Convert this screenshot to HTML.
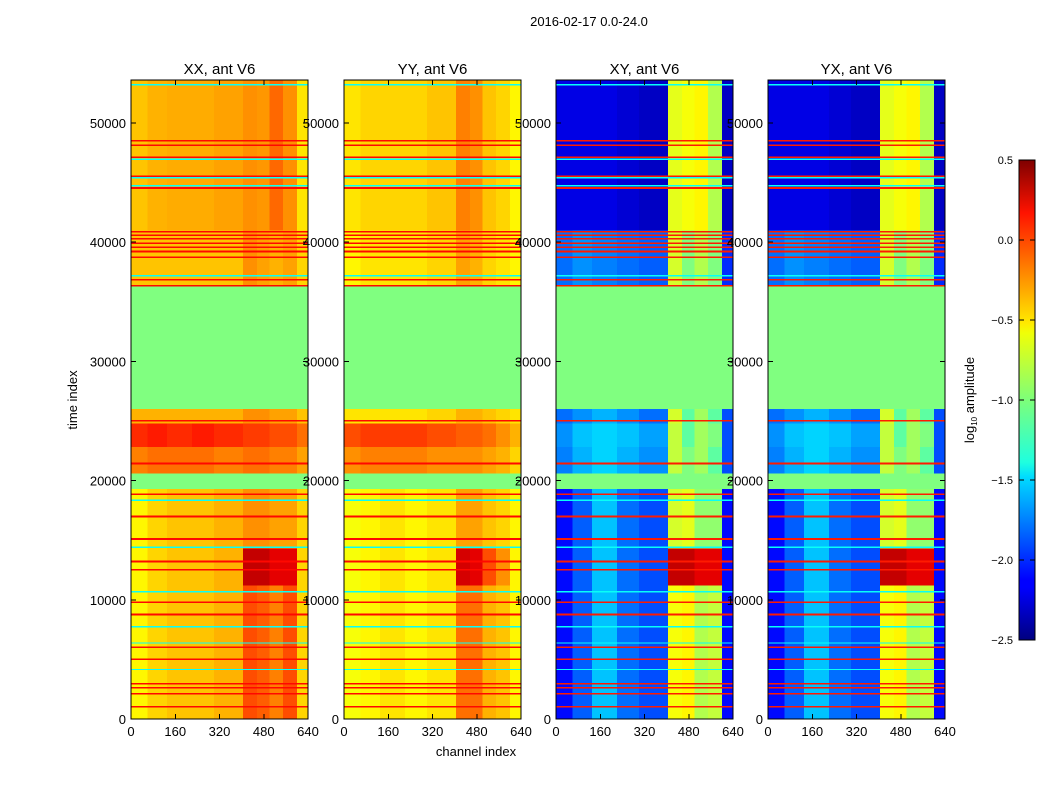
<!DOCTYPE html>
<html><head><meta charset="utf-8"><style>
body{margin:0;background:#fff;}
svg text{font-family:"Liberation Sans",sans-serif;fill:#000;}
</style></head><body>
<svg id="fig" width="1050" height="800" xmlns="http://www.w3.org/2000/svg" shape-rendering="crispEdges">
<defs>
<linearGradient id="jet" x1="0" y1="1" x2="0" y2="0">
<stop offset="0" stop-color="#00007f"/><stop offset="0.11" stop-color="#0000ff"/><stop offset="0.125" stop-color="#0000ff"/>
<stop offset="0.34" stop-color="#00dcff"/><stop offset="0.37" stop-color="#1fffdf"/><stop offset="0.5" stop-color="#7dff7a"/>
<stop offset="0.64" stop-color="#f0ff07"/><stop offset="0.66" stop-color="#ffea00"/><stop offset="0.89" stop-color="#ff1300"/><stop offset="1" stop-color="#7f0000"/>
</linearGradient>
</defs>
<text x="589" y="26" font-size="13" text-anchor="middle">2016-02-17 0.0-24.0</text>
<g id="panels"></g>
<text x="77" y="400" font-size="13" text-anchor="middle" transform="rotate(-90 77 400)">time index</text>
<text x="476" y="756" font-size="13" text-anchor="middle">channel index</text>
<g>
<rect x="1019" y="160" width="16" height="480" fill="url(#jet)" stroke="#000" stroke-width="1"/>
<g id="cbticks"></g>
<text x="974" y="400" font-size="13" text-anchor="middle" transform="rotate(-90 974 400)">log<tspan font-size="8" dy="3">10</tspan><tspan dy="-3"> amplitude</tspan></text>
</g>
</svg>
<script>
const panelTitles = ["XX, ant V6","YY, ant V6","XY, ant V6","YX, ant V6"];
const timeEdges = [0,11200,14300,19300,20600,22800,24800,26000,36300,41000,53600];
const chanEdges = [0,60,130,220,300,405,455,500,550,600,640];
const xxValues = [
 [-0.6,-0.5,-0.45,-0.45,-0.4,-0.1,-0.15,-0.25,-0.1,-0.5],
 [-0.6,-0.5,-0.45,-0.45,-0.4,0.3,0.3,0.2,0.2,-0.5],
 [-0.6,-0.5,-0.45,-0.45,-0.4,-0.3,-0.3,-0.35,-0.35,-0.5],
 [-1,-1,-1,-1,-1,-1,-1,-1,-1,-1],
 [-0.25,-0.2,-0.2,-0.2,-0.25,-0.2,-0.2,-0.25,-0.25,-0.35],
 [0.0,0.05,0.0,0.05,0.0,-0.05,-0.05,-0.1,-0.1,-0.2],
 [-0.4,-0.4,-0.4,-0.4,-0.4,-0.3,-0.3,-0.35,-0.35,-0.45],
 [-1,-1,-1,-1,-1,-1,-1,-1,-1,-1],
 [-0.45,-0.45,-0.45,-0.45,-0.45,-0.3,-0.35,-0.4,-0.35,-0.5],
 [-0.45,-0.4,-0.38,-0.38,-0.35,-0.3,-0.32,-0.18,-0.3,-0.55]];
const yyValues = [
 [-0.65,-0.6,-0.55,-0.6,-0.55,-0.2,-0.2,-0.4,-0.45,-0.6],
 [-0.65,-0.6,-0.55,-0.6,-0.55,0.25,0.2,-0.1,-0.3,-0.6],
 [-0.65,-0.6,-0.55,-0.6,-0.55,-0.35,-0.35,-0.45,-0.5,-0.6],
 [-1,-1,-1,-1,-1,-1,-1,-1,-1,-1],
 [-0.3,-0.25,-0.25,-0.25,-0.3,-0.3,-0.3,-0.35,-0.4,-0.5],
 [-0.1,-0.05,-0.05,-0.05,-0.1,-0.15,-0.15,-0.2,-0.3,-0.4],
 [-0.55,-0.55,-0.55,-0.55,-0.5,-0.4,-0.4,-0.45,-0.5,-0.55],
 [-1,-1,-1,-1,-1,-1,-1,-1,-1,-1],
 [-0.6,-0.55,-0.55,-0.55,-0.5,-0.35,-0.4,-0.5,-0.55,-0.6],
 [-0.55,-0.5,-0.5,-0.5,-0.45,-0.25,-0.3,-0.45,-0.5,-0.6]];
const xyValues = [
 [-2.1,-1.85,-1.55,-1.8,-1.9,-0.65,-0.6,-0.85,-0.8,-2.1],
 [-2.1,-1.85,-1.55,-1.8,-1.9,0.3,0.3,0.2,0.2,-2.1],
 [-2.1,-1.85,-1.55,-1.8,-1.9,-0.75,-0.7,-0.95,-0.95,-2.1],
 [-1,-1,-1,-1,-1,-1,-1,-1,-1,-1],
 [-1.75,-1.6,-1.5,-1.6,-1.7,-0.8,-1.0,-0.9,-1.1,-1.9],
 [-1.7,-1.55,-1.5,-1.55,-1.65,-0.8,-1.1,-0.9,-1.0,-1.9],
 [-1.8,-1.7,-1.6,-1.7,-1.8,-0.75,-1.1,-0.9,-1.1,-1.9],
 [-1,-1,-1,-1,-1,-1,-1,-1,-1,-1],
 [-1.8,-1.7,-1.75,-1.8,-1.85,-0.75,-1.0,-0.85,-1.0,-2.0],
 [-2.2,-2.2,-2.2,-2.25,-2.3,-0.7,-0.65,-0.6,-0.85,-2.3]];
const yxValues = xyValues;
const redLines = [48480,48130,47100,45500,44530,40870,40560,40260,39900,39570,39200,38710,36830,36330,25020,21420,18850,16970,15080,13200,12520,9780,8750,6010,4980,2940,2600,2100,1000];
const cyanLines = [53200,46930,45390,44720,37170,18340,14400,10640,7720,6350,4130];
const yTicks = [0,10000,20000,30000,40000,50000];
const xTicks = [0,160,320,480,640];
const cbTicks = [0.5,0.0,-0.5,-1.0,-1.5,-2.0,-2.5];

const panelValues = [xxValues,yyValues,xyValues,yxValues];
const panelX = [131,344,556,768];
const PW = 177, PT = 80, PB = 719;
const yScale = t => PB - t*(119.2/10000);
const NS = "http://www.w3.org/2000/svg";
function jet(v){
  let t=Math.max(0,Math.min(1,(v+2.5)/3));
  const f=x=>Math.max(0,Math.min(1,x));
  const r=f(1.5-Math.abs(4*t-3)), g=f(1.5-Math.abs(4*t-2)), b=f(1.5-Math.abs(4*t-1));
  return `rgb(${Math.round(r*255)},${Math.round(g*255)},${Math.round(b*255)})`;
}
function mk(tag,attrs,parent){const e=document.createElementNS(NS,tag);for(const k in attrs)e.setAttribute(k,attrs[k]);parent.appendChild(e);return e;}
const root=document.getElementById('panels');
panelValues.forEach((vals,p)=>{
  const x0=panelX[p];
  const xScale=c=>x0+c*PW/640;
  const g=mk('g',{},root);
  
  
  for(let i=0;i<timeEdges.length-1;i++){
    for(let j=0;j<chanEdges.length-1;j++){
      const y1=yScale(timeEdges[i+1]), y2=Math.min(PB,yScale(timeEdges[i]));
      const r=mk('rect',{x:xScale(chanEdges[j]),y:Math.max(PT,y1),width:xScale(chanEdges[j+1])-xScale(chanEdges[j]),height:y2-Math.max(PT,y1),fill:jet(vals[i][j])},g);
      
      
    }
  }
  redLines.forEach(t=>{
    const l=mk('rect',{x:x0,y:yScale(t)-1,width:PW,height:1.6,fill:jet(p<2?0.1:0.05)},g);
    
    
  });
  cyanLines.forEach(t=>{
    const l=mk('rect',{x:x0,y:yScale(t)-1,width:PW,height:1.4,fill:jet(-1.35)},g);
    
    
  });
  const fr=mk('rect',{x:x0,y:PT,width:PW,height:PB-PT,fill:'none',stroke:'#000','stroke-width':1},g);
  
  
  const tt=mk('text',{x:x0+PW/2,y:74,'font-size':15,'text-anchor':'middle'},g);
  tt.textContent=panelTitles[p];
  
  
  xTicks.forEach(c=>{
    const x=xScale(c);
    mk('line',{x1:x,y1:PB,x2:x,y2:PB-5,stroke:'#000'},g);
    mk('line',{x1:x,y1:PT,x2:x,y2:PT+5,stroke:'#000'},g);
    const t=mk('text',{x:x,y:PB+17,'font-size':13,'text-anchor':'middle'},g);
    t.textContent=c;
    
    
  });
  yTicks.forEach(v=>{
    const y=yScale(v);
    mk('line',{x1:x0,y1:y,x2:x0+5,y2:y,stroke:'#000'},g);
    mk('line',{x1:x0+PW,y1:y,x2:x0+PW-5,y2:y,stroke:'#000'},g);
    const t=mk('text',{x:x0-5,y:y+5,'font-size':13,'text-anchor':'end'},g);
    t.textContent=v;
    
    
  });
});
const cb=document.getElementById('cbticks');
cbTicks.forEach(v=>{
  const y=160+(0.5-v)/3*480;
  mk('line',{x1:1019,y1:y,x2:1024,y2:y,stroke:'#000'},cb);
  mk('line',{x1:1035,y1:y,x2:1030,y2:y,stroke:'#000'},cb);
  const t=mk('text',{x:1013,y:y+4,'font-size':11,'text-anchor':'end'},cb);
  t.textContent=v.toFixed(1).replace('-','\u2212');
  
  
});
</script>
</body></html>
